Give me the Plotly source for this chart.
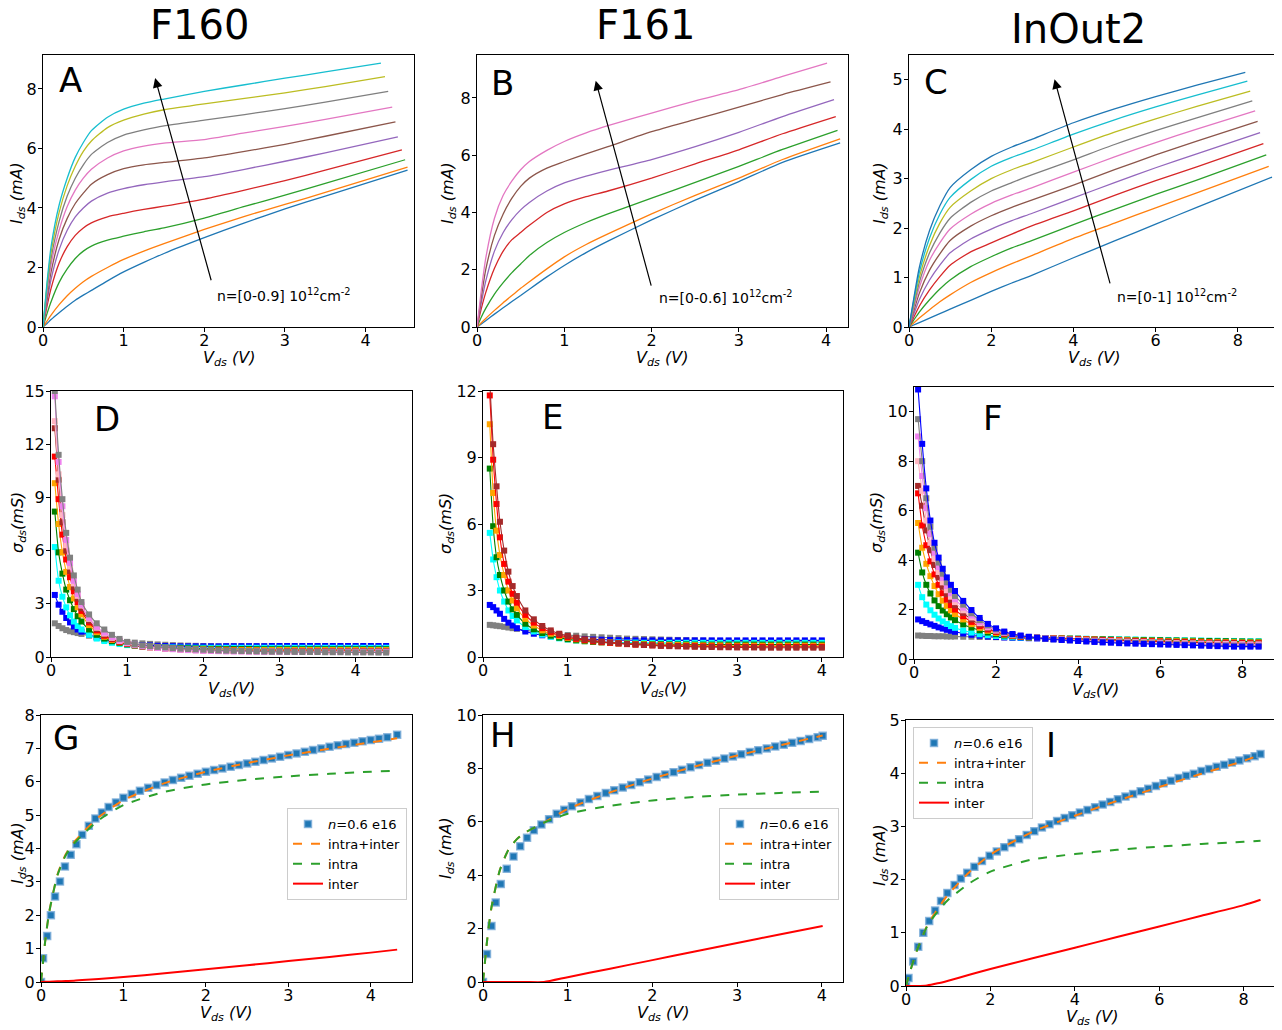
import plotly.graph_objects as go

FONT = "DejaVu Sans"
TAB10 = ["#1f77b4", "#ff7f0e", "#2ca02c", "#d62728", "#9467bd",
         "#8c564b", "#e377c2", "#7f7f7f", "#bcbd22", "#17becf"]
NAMED = {"gray": "#808080", "blue": "#0000FF", "cyan": "#00FFFF", "green": "#008000",
         "orange": "#FFA500", "red": "#FF0000", "brown": "#A52A2A", "pink": "#FFB6C1",
         "violet": "#EE82EE"}

# ---------------- Panel A (F160 I-V) ----------------
A_x = [0, 0.05, 0.1, 0.2, 0.3, 0.4, 0.5, 0.6, 0.8, 1.0, 1.25, 1.5, 2.0, 2.5, 3.0, 3.5]
A_xend = [4.52, 4.52, 4.49, 4.45, 4.40, 4.37, 4.33, 4.28, 4.24, 4.19]
A_I = [
    [0, 0.12, 0.25, 0.48, 0.7, 0.9, 1.07, 1.23, 1.55, 1.85, 2.17, 2.47, 3.0, 3.5, 3.97, 4.4, 5.27],
    [0, 0.2, 0.4, 0.75, 1.05, 1.3, 1.52, 1.7, 2.0, 2.27, 2.55, 2.8, 3.28, 3.72, 4.12, 4.52, 5.37],
    [0, 0.45, 0.85, 1.5, 1.95, 2.3, 2.55, 2.72, 2.92, 3.05, 3.2, 3.33, 3.66, 4.05, 4.43, 4.83, 5.62],
    [0, 0.7, 1.3, 2.15, 2.7, 3.08, 3.33, 3.5, 3.7, 3.82, 3.95, 4.06, 4.3, 4.6, 4.92, 5.27, 5.95],
    [0, 0.85, 1.6, 2.6, 3.25, 3.7, 4.0, 4.23, 4.5, 4.65, 4.78, 4.88, 5.05, 5.3, 5.57, 5.85, 6.39],
    [0, 1.0, 1.85, 2.95, 3.65, 4.15, 4.5, 4.8, 5.12, 5.32, 5.45, 5.53, 5.68, 5.9, 6.14, 6.41, 6.89],
    [0, 1.15, 2.1, 3.25, 4.05, 4.6, 5.0, 5.3, 5.68, 5.92, 6.08, 6.18, 6.3, 6.52, 6.74, 6.98, 7.39],
    [0, 1.3, 2.3, 3.55, 4.4, 5.0, 5.45, 5.8, 6.2, 6.45, 6.62, 6.76, 6.95, 7.14, 7.34, 7.56, 7.92],
    [0, 1.4, 2.5, 3.85, 4.75, 5.4, 5.9, 6.25, 6.7, 6.95, 7.15, 7.3, 7.5, 7.68, 7.87, 8.08, 8.41],
    [0, 1.5, 2.7, 4.1, 5.0, 5.7, 6.2, 6.6, 7.05, 7.32, 7.52, 7.66, 7.92, 8.14, 8.36, 8.57, 8.87],
]

# ---------------- Panel B (F161 I-V) ----------------
B_x = [0, 0.05, 0.1, 0.2, 0.3, 0.4, 0.5, 0.6, 0.8, 1.0, 1.25, 1.5, 2.0, 2.5, 3.0, 3.5]
B_xend = [4.16, 4.16, 4.13, 4.11, 4.09, 4.05, 4.01]
B_I = [
    [0, 0.11, 0.22, 0.45, 0.67, 0.89, 1.1, 1.32, 1.75, 2.15, 2.6, 3.0, 3.74, 4.43, 5.08, 5.75, 6.43],
    [0, 0.15, 0.3, 0.58, 0.85, 1.1, 1.35, 1.58, 2.03, 2.45, 2.88, 3.25, 3.95, 4.6, 5.2, 5.85, 6.57],
    [0, 0.35, 0.65, 1.15, 1.55, 1.9, 2.2, 2.5, 2.95, 3.3, 3.65, 3.95, 4.5, 5.05, 5.61, 6.2, 6.87],
    [0, 0.65, 1.2, 2.05, 2.65, 3.05, 3.3, 3.55, 4.0, 4.3, 4.55, 4.75, 5.2, 5.7, 6.19, 6.75, 7.35],
    [0, 0.85, 1.6, 2.65, 3.3, 3.75, 4.09, 4.35, 4.75, 5.03, 5.27, 5.47, 5.85, 6.3, 6.8, 7.35, 7.94],
    [0, 1.05, 2.0, 3.2, 3.95, 4.5, 4.91, 5.2, 5.55, 5.78, 6.05, 6.3, 6.82, 7.25, 7.68, 8.12, 8.56],
    [0, 1.3, 2.4, 3.8, 4.6, 5.1, 5.49, 5.78, 6.17, 6.48, 6.78, 7.03, 7.47, 7.9, 8.29, 8.75, 9.22],
]

# ---------------- Panel C (InOut2 I-V) ----------------
C_x = [0, 0.1, 0.25, 0.5, 0.75, 1.0, 1.5, 2.0, 2.5, 3.0, 4.0, 5.0, 6.0, 7.0]
C_xend = [8.83, 8.75, 8.69, 8.62, 8.54, 8.48, 8.42, 8.35, 8.30, 8.23, 8.18]
C_I = [
    [0, 0.035, 0.09, 0.18, 0.27, 0.36, 0.54, 0.72, 0.89, 1.05, 1.4, 1.74, 2.08, 2.42, 3.03],
    [0, 0.07, 0.18, 0.35, 0.51, 0.65, 0.9, 1.1, 1.28, 1.45, 1.79, 2.1, 2.41, 2.71, 3.25],
    [0, 0.12, 0.3, 0.55, 0.77, 0.95, 1.22, 1.42, 1.6, 1.75, 2.07, 2.38, 2.68, 2.97, 3.48],
    [0, 0.17, 0.42, 0.75, 1.02, 1.25, 1.52, 1.7, 1.88, 2.05, 2.35, 2.66, 2.96, 3.24, 3.71],
    [0, 0.22, 0.55, 0.95, 1.25, 1.5, 1.78, 1.98, 2.15, 2.3, 2.61, 2.92, 3.22, 3.5, 3.93],
    [0, 0.28, 0.68, 1.15, 1.48, 1.75, 2.04, 2.25, 2.42, 2.57, 2.87, 3.18, 3.48, 3.76, 4.16],
    [0, 0.33, 0.8, 1.35, 1.7, 1.98, 2.28, 2.5, 2.67, 2.82, 3.13, 3.44, 3.73, 4.0, 4.37],
    [0, 0.37, 0.9, 1.5, 1.9, 2.2, 2.52, 2.75, 2.92, 3.08, 3.38, 3.69, 3.97, 4.23, 4.57],
    [0, 0.42, 1.0, 1.65, 2.1, 2.42, 2.75, 3.0, 3.18, 3.33, 3.64, 3.94, 4.21, 4.46, 4.77],
    [0, 0.46, 1.1, 1.8, 2.28, 2.62, 2.98, 3.25, 3.43, 3.58, 3.9, 4.19, 4.45, 4.69, 4.97],
    [0, 0.5, 1.2, 1.95, 2.45, 2.82, 3.18, 3.45, 3.64, 3.8, 4.13, 4.41, 4.66, 4.89, 5.15],
]
C_colors = TAB10 + [TAB10[0]]

# ---------------- Panel D (F160 sigma) ----------------
D_x = [0.05, 0.1, 0.15, 0.2, 0.25, 0.3, 0.35, 0.4, 0.5, 0.6, 0.7, 0.8, 0.9, 1.0,
       1.1, 1.2, 1.3, 1.4, 1.5, 1.6, 1.7, 1.8, 1.9, 2.0, 2.1, 2.2, 2.3, 2.4, 2.5,
       2.6, 2.7, 2.8, 2.9, 3.0, 3.1, 3.2, 3.3, 3.4, 3.5, 3.6, 3.7, 3.8, 3.9, 4.0,
       4.1, 4.2, 4.3, 4.4]
D_names = ["gray", "blue", "cyan", "green", "orange", "red", "brown", "pink", "violet", "gray"]
D_S = [
    [1.9, 1.75, 1.62, 1.52, 1.45, 1.4, 1.35, 1.3, 1.2, 1.11, 1.03, 0.96, 0.9, 0.85,
     0.81, 0.77, 0.74, 0.71, 0.69, 0.67, 0.65, 0.64, 0.63, 0.62, 0.61, 0.6, 0.6, 0.6, 0.6,
     0.6, 0.6, 0.6, 0.6, 0.6, 0.6, 0.6, 0.6, 0.6, 0.6, 0.6, 0.6, 0.6, 0.6, 0.6,
     0.6, 0.6, 0.6, 0.6],
    [3.5, 2.95, 2.55, 2.2, 1.95, 1.72, 1.55, 1.43, 1.24, 1.1, 0.98, 0.88, 0.8, 0.74,
     0.7, 0.67, 0.65, 0.63, 0.62, 0.61, 0.6, 0.6, 0.6, 0.6, 0.6, 0.6, 0.61, 0.61, 0.61,
     0.61, 0.61, 0.61, 0.62, 0.62, 0.62, 0.62, 0.62, 0.62, 0.62, 0.62, 0.62, 0.62, 0.62, 0.62,
     0.62, 0.62, 0.62, 0.62],
    [6.2, 4.3, 3.4, 2.8, 2.35, 2.0, 1.75, 1.55, 1.25, 1.04, 0.9, 0.8, 0.73, 0.67,
     0.63, 0.6, 0.58, 0.56, 0.55, 0.54, 0.53, 0.53, 0.52, 0.52, 0.52, 0.52, 0.52, 0.52, 0.52,
     0.52, 0.52, 0.52, 0.52, 0.52, 0.52, 0.52, 0.52, 0.52, 0.52, 0.52, 0.52, 0.52, 0.52, 0.52,
     0.52, 0.52, 0.52, 0.52],
    [8.2, 5.9, 4.7, 3.8, 3.2, 2.7, 2.3, 2.0, 1.55, 1.25, 1.04, 0.89, 0.79, 0.71,
     0.65, 0.61, 0.58, 0.55, 0.53, 0.51, 0.5, 0.49, 0.48, 0.47, 0.46, 0.46, 0.45, 0.45, 0.45,
     0.45, 0.44, 0.44, 0.44, 0.44, 0.44, 0.44, 0.44, 0.44, 0.44, 0.44, 0.44, 0.44, 0.44, 0.44,
     0.44, 0.44, 0.44, 0.44],
    [9.8, 7.5, 5.9, 4.8, 3.95, 3.3, 2.8, 2.4, 1.8, 1.4, 1.14, 0.96, 0.83, 0.73,
     0.66, 0.61, 0.57, 0.53, 0.5, 0.48, 0.46, 0.45, 0.44, 0.43, 0.42, 0.41, 0.41, 0.4, 0.4,
     0.4, 0.39, 0.39, 0.39, 0.39, 0.39, 0.39, 0.39, 0.39, 0.39, 0.39, 0.39, 0.39, 0.39, 0.39,
     0.39, 0.39, 0.39, 0.39],
    [11.3, 8.9, 6.9, 5.5, 4.5, 3.7, 3.1, 2.6, 1.95, 1.5, 1.2, 1.0, 0.85, 0.74,
     0.66, 0.6, 0.55, 0.51, 0.48, 0.46, 0.44, 0.42, 0.4, 0.39, 0.38, 0.37, 0.36, 0.36, 0.35,
     0.35, 0.35, 0.34, 0.34, 0.34, 0.34, 0.34, 0.34, 0.34, 0.34, 0.34, 0.34, 0.34, 0.34, 0.34,
     0.34, 0.34, 0.34, 0.34],
    [12.9, 10.0, 7.6, 6.0, 4.85, 3.95, 3.3, 2.75, 2.05, 1.58, 1.27, 1.04, 0.88, 0.76,
     0.67, 0.6, 0.55, 0.51, 0.48, 0.45, 0.43, 0.41, 0.39, 0.37, 0.36, 0.35, 0.35, 0.34, 0.34,
     0.33, 0.33, 0.33, 0.32, 0.32, 0.32, 0.32, 0.32, 0.32, 0.32, 0.32, 0.32, 0.32, 0.32, 0.32,
     0.32, 0.32, 0.32, 0.32],
    [13.3, 10.3, 8.0, 6.3, 5.1, 4.15, 3.45, 2.9, 2.15, 1.65, 1.32, 1.08, 0.9, 0.78,
     0.69, 0.62, 0.56, 0.52, 0.48, 0.45, 0.42, 0.4, 0.38, 0.36, 0.35, 0.34, 0.33, 0.33, 0.32,
     0.32, 0.31, 0.31, 0.31, 0.3, 0.3, 0.3, 0.3, 0.3, 0.3, 0.3, 0.3, 0.3, 0.3, 0.3,
     0.3, 0.3, 0.3, 0.3],
    [14.7, 11.0, 8.5, 6.6, 5.3, 4.3, 3.55, 2.95, 2.2, 1.7, 1.38, 1.12, 0.93, 0.8,
     0.7, 0.62, 0.56, 0.51, 0.47, 0.44, 0.41, 0.39, 0.37, 0.35, 0.34, 0.33, 0.32, 0.31, 0.31,
     0.3, 0.3, 0.29, 0.29, 0.29, 0.28, 0.28, 0.28, 0.28, 0.28, 0.28, 0.28, 0.28, 0.28, 0.28,
     0.28, 0.28, 0.28, 0.28],
    [15.0, 11.4, 8.9, 7.0, 5.6, 4.6, 3.8, 3.1, 2.4, 1.9, 1.55, 1.25, 1.02, 0.85,
     0.72, 0.66, 0.61, 0.57, 0.54, 0.5, 0.47, 0.45, 0.43, 0.41, 0.39, 0.37, 0.36, 0.35, 0.34,
     0.33, 0.32, 0.31, 0.3, 0.3, 0.29, 0.29, 0.28, 0.28, 0.28, 0.27, 0.27, 0.27, 0.26, 0.26,
     0.26, 0.26, 0.25, 0.25],
]

# ---------------- Panel E (F161 sigma) ----------------
E_x = [0.08, 0.12, 0.16, 0.2, 0.25, 0.3, 0.35, 0.4, 0.5, 0.6, 0.7, 0.8, 0.9, 1.0,
       1.1, 1.2, 1.3, 1.4, 1.5, 1.6, 1.7, 1.8, 1.9, 2.0, 2.1, 2.2, 2.3, 2.4, 2.5,
       2.6, 2.7, 2.8, 2.9, 3.0, 3.1, 3.2, 3.3, 3.4, 3.5, 3.6, 3.7, 3.8, 3.9, 4.0]
E_names = ["gray", "blue", "cyan", "green", "orange", "red", "brown"]
E_S = [
    [1.45, 1.43, 1.41, 1.39, 1.36, 1.33, 1.3, 1.27, 1.21, 1.15, 1.1, 1.06, 1.02, 0.99,
     0.96, 0.93, 0.91, 0.89, 0.87, 0.85, 0.83, 0.82, 0.81, 0.8, 0.79, 0.78, 0.77, 0.76, 0.75,
     0.74, 0.73, 0.72, 0.71, 0.7, 0.69, 0.69, 0.69, 0.69, 0.69, 0.69, 0.69, 0.69, 0.69, 0.69],
    [2.35, 2.25, 2.1, 1.95, 1.72, 1.55, 1.42, 1.3, 1.15, 1.05, 0.98, 0.93, 0.89, 0.86,
     0.83, 0.81, 0.79, 0.78, 0.77, 0.76, 0.76, 0.75, 0.75, 0.75, 0.75, 0.75, 0.75, 0.75, 0.75,
     0.75, 0.75, 0.75, 0.75, 0.75, 0.75, 0.75, 0.75, 0.75, 0.75, 0.75, 0.75, 0.75, 0.75, 0.75],
    [5.6, 4.4, 3.6, 3.0, 2.5, 2.1, 1.85, 1.65, 1.35, 1.15, 1.01, 0.91, 0.84, 0.79,
     0.75, 0.72, 0.7, 0.68, 0.67, 0.66, 0.65, 0.65, 0.64, 0.64, 0.64, 0.64, 0.64, 0.64, 0.64,
     0.64, 0.64, 0.64, 0.64, 0.64, 0.64, 0.64, 0.64, 0.64, 0.64, 0.64, 0.64, 0.64, 0.64, 0.64],
    [8.5, 5.9, 4.5, 3.7, 3.0, 2.5, 2.15, 1.9, 1.5, 1.25, 1.08, 0.96, 0.87, 0.8,
     0.75, 0.71, 0.68, 0.66, 0.64, 0.62, 0.61, 0.6, 0.59, 0.58, 0.58, 0.57, 0.57, 0.57, 0.56,
     0.56, 0.56, 0.56, 0.56, 0.56, 0.56, 0.56, 0.56, 0.56, 0.56, 0.56, 0.56, 0.56, 0.56, 0.56],
    [10.5, 7.4, 5.7, 4.6, 3.7, 3.0, 2.55, 2.2, 1.72, 1.42, 1.2, 1.05, 0.94, 0.86,
     0.8, 0.75, 0.71, 0.67, 0.64, 0.62, 0.6, 0.58, 0.57, 0.56, 0.55, 0.54, 0.54, 0.53, 0.53,
     0.52, 0.52, 0.52, 0.51, 0.51, 0.51, 0.51, 0.51, 0.51, 0.51, 0.51, 0.51, 0.51, 0.51, 0.51],
    [11.8, 8.9, 6.9, 5.4, 4.2, 3.4, 2.85, 2.45, 1.9, 1.55, 1.3, 1.12, 0.99, 0.89,
     0.82, 0.76, 0.71, 0.67, 0.64, 0.61, 0.58, 0.56, 0.54, 0.53, 0.52, 0.51, 0.5, 0.49, 0.49,
     0.48, 0.48, 0.47, 0.47, 0.47, 0.46, 0.46, 0.46, 0.46, 0.46, 0.46, 0.46, 0.46, 0.46, 0.46],
    [12.4, 9.6, 7.7, 6.1, 4.8, 3.85, 3.2, 2.75, 2.1, 1.7, 1.4, 1.2, 1.05, 0.95,
     0.87, 0.8, 0.75, 0.7, 0.66, 0.62, 0.59, 0.56, 0.54, 0.52, 0.5, 0.49, 0.48, 0.47, 0.46,
     0.45, 0.45, 0.44, 0.44, 0.43, 0.43, 0.43, 0.42, 0.42, 0.42, 0.42, 0.42, 0.42, 0.42, 0.42],
]

# ---------------- Panel F (InOut2 sigma) ----------------
F_x = [0.1, 0.2, 0.3, 0.4, 0.5, 0.6, 0.7, 0.8, 0.9, 1.0,
       1.2, 1.4, 1.6, 1.8, 2.0, 2.2, 2.4, 2.6, 2.8, 3.0, 3.2, 3.4, 3.6, 3.8, 4.0,
       4.2, 4.4, 4.6, 4.8, 5.0, 5.2, 5.4, 5.6, 5.8, 6.0, 6.2, 6.4, 6.6, 6.8, 7.0,
       7.2, 7.4, 7.6, 7.8, 8.0, 8.2, 8.4]
F_names = ["gray", "blue", "cyan", "green", "orange", "red", "brown", "pink", "violet", "gray", "blue"]
F_S = [
    [0.95, 0.94, 0.93, 0.93, 0.92, 0.92, 0.92, 0.91, 0.91, 0.91,
     0.9, 0.9, 0.89, 0.89, 0.88, 0.88, 0.87, 0.87, 0.86, 0.86, 0.85, 0.84, 0.84, 0.83, 0.82,
     0.81, 0.8, 0.79, 0.78, 0.77, 0.76, 0.75, 0.74, 0.73, 0.72, 0.71, 0.7, 0.69, 0.68, 0.67,
     0.66, 0.65, 0.64, 0.63, 0.62, 0.61, 0.6],
    [1.6, 1.53, 1.46, 1.4, 1.34, 1.28, 1.23, 1.18, 1.14, 1.1,
     1.03, 0.98, 0.94, 0.91, 0.89, 0.87, 0.86, 0.85, 0.84, 0.83, 0.82, 0.81, 0.8, 0.79, 0.78,
     0.77, 0.76, 0.75, 0.74, 0.73, 0.72, 0.71, 0.7, 0.69, 0.68, 0.67, 0.66, 0.65, 0.64, 0.63,
     0.62, 0.61, 0.6, 0.6, 0.59, 0.59, 0.58],
    [3.0, 2.5, 2.2, 1.97, 1.79, 1.64, 1.52, 1.42, 1.33, 1.26,
     1.15, 1.07, 1.0, 0.96, 0.93, 0.9, 0.88, 0.87, 0.86, 0.85, 0.84, 0.84, 0.83, 0.83, 0.82,
     0.82, 0.81, 0.81, 0.8, 0.8, 0.79, 0.79, 0.78, 0.78, 0.77, 0.77, 0.76, 0.76, 0.75, 0.75,
     0.74, 0.74, 0.73, 0.73, 0.72, 0.72, 0.72],
    [4.3, 3.5, 3.0, 2.65, 2.37, 2.14, 1.96, 1.81, 1.68, 1.57,
     1.4, 1.27, 1.16, 1.07, 1.0, 0.95, 0.92, 0.89, 0.87, 0.86, 0.85, 0.84, 0.83, 0.82, 0.82,
     0.81, 0.8, 0.8, 0.79, 0.78, 0.78, 0.77, 0.77, 0.76, 0.76, 0.75, 0.75, 0.74, 0.74, 0.73,
     0.73, 0.72, 0.72, 0.71, 0.71, 0.7, 0.7],
    [5.5, 4.5, 3.85, 3.35, 2.95, 2.62, 2.36, 2.15, 1.97, 1.82,
     1.6, 1.41, 1.26, 1.14, 1.05, 0.99, 0.94, 0.9, 0.88, 0.86, 0.85, 0.84, 0.83, 0.82, 0.81,
     0.8, 0.79, 0.78, 0.77, 0.77, 0.76, 0.75, 0.74, 0.74, 0.73, 0.72, 0.72, 0.71, 0.71, 0.7,
     0.69, 0.69, 0.68, 0.68, 0.67, 0.67, 0.67],
    [6.7, 5.4, 4.6, 3.95, 3.42, 3.0, 2.66, 2.4, 2.18, 2.0,
     1.73, 1.5, 1.33, 1.19, 1.09, 1.01, 0.95, 0.91, 0.88, 0.86, 0.85, 0.83, 0.82, 0.81, 0.8,
     0.79, 0.78, 0.77, 0.76, 0.75, 0.74, 0.73, 0.72, 0.72, 0.71, 0.7, 0.69, 0.69, 0.68, 0.67,
     0.67, 0.66, 0.66, 0.65, 0.65, 0.64, 0.64],
    [7.0, 6.2, 5.2, 4.4, 3.8, 3.3, 2.92, 2.62, 2.38, 2.17,
     1.86, 1.6, 1.4, 1.24, 1.12, 1.03, 0.97, 0.92, 0.89, 0.86, 0.84, 0.83, 0.81, 0.8, 0.78,
     0.77, 0.76, 0.75, 0.74, 0.73, 0.72, 0.71, 0.7, 0.69, 0.68, 0.68, 0.67, 0.66, 0.66, 0.65,
     0.64, 0.64, 0.63, 0.63, 0.62, 0.62, 0.62],
    [8.0, 6.8, 5.6, 4.7, 4.05, 3.52, 3.1, 2.78, 2.52, 2.3,
     1.97, 1.68, 1.45, 1.28, 1.15, 1.05, 0.98, 0.93, 0.89, 0.86, 0.84, 0.82, 0.8, 0.78, 0.77,
     0.75, 0.74, 0.73, 0.72, 0.71, 0.7, 0.69, 0.68, 0.67, 0.66, 0.65, 0.64, 0.64, 0.63, 0.62,
     0.62, 0.61, 0.61, 0.6, 0.6, 0.59, 0.59],
    [9.0, 7.4, 6.1, 5.05, 4.3, 3.72, 3.28, 2.95, 2.66, 2.42,
     2.08, 1.76, 1.5, 1.31, 1.17, 1.06, 0.98, 0.93, 0.89, 0.86, 0.83, 0.81, 0.79, 0.77, 0.75,
     0.74, 0.72, 0.71, 0.7, 0.69, 0.68, 0.67, 0.66, 0.65, 0.64, 0.63, 0.62, 0.61, 0.6, 0.6,
     0.59, 0.58, 0.58, 0.57, 0.57, 0.56, 0.56],
    [9.7, 8.0, 6.5, 5.35, 4.5, 3.9, 3.45, 3.1, 2.8, 2.55,
     2.2, 1.85, 1.57, 1.36, 1.2, 1.08, 0.99, 0.93, 0.89, 0.86, 0.83, 0.8, 0.78, 0.76, 0.74,
     0.72, 0.71, 0.69, 0.68, 0.67, 0.66, 0.65, 0.64, 0.63, 0.62, 0.61, 0.6, 0.59, 0.58, 0.57,
     0.56, 0.55, 0.55, 0.54, 0.54, 0.53, 0.53],
    [10.9, 8.7, 6.9, 5.6, 4.7, 4.1, 3.65, 3.3, 3.0, 2.75,
     2.35, 1.98, 1.66, 1.42, 1.24, 1.11, 1.01, 0.95, 0.9, 0.86, 0.82, 0.79, 0.77, 0.75, 0.73,
     0.71, 0.69, 0.67, 0.66, 0.64, 0.63, 0.62, 0.61, 0.6, 0.59, 0.58, 0.57, 0.56, 0.55, 0.54,
     0.53, 0.52, 0.51, 0.5, 0.5, 0.5, 0.5],
]

# ---------------- Panel G (F160 fit) ----------------
G_xd = [0, 0.025, 0.075, 0.12, 0.17, 0.23, 0.29, 0.36, 0.43, 0.5, 0.58, 0.66, 0.74, 0.82, 0.91,
        1.0, 1.1, 1.2, 1.3, 1.4, 1.5, 1.6, 1.7, 1.8, 1.9, 2.0, 2.1, 2.2, 2.3, 2.4, 2.5, 2.6,
        2.7, 2.8, 2.9, 3.0, 3.1, 3.2, 3.3, 3.4, 3.5, 3.6, 3.7, 3.8, 3.9, 4.0, 4.1, 4.2, 4.32]
G_data = [0, 0.71, 1.38, 2.0, 2.56, 3.01, 3.46, 3.81, 4.13, 4.41, 4.68, 4.9, 5.08, 5.24, 5.38,
          5.52, 5.63, 5.73, 5.82, 5.9, 5.98, 6.05, 6.12, 6.18, 6.24, 6.3, 6.35, 6.4, 6.45, 6.5,
          6.55, 6.6, 6.65, 6.7, 6.75, 6.8, 6.85, 6.9, 6.95, 7.0, 7.05, 7.09, 7.13, 7.17, 7.21,
          7.25, 7.29, 7.33, 7.41]
G_xf = [0, 0.05, 0.1, 0.2, 0.3, 0.4, 0.5, 0.7, 1.0, 1.5, 2.0, 2.5, 3.0, 3.5, 4.0, 4.32]
G_sum = [0, 1.2, 2.1, 3.22, 3.83, 4.19, 4.46, 4.94, 5.45, 5.96, 6.3, 6.56, 6.79, 6.99, 7.18, 7.3]
G_intra = [0, 1.2, 2.1, 3.2, 3.8, 4.15, 4.4, 4.85, 5.3, 5.7, 5.92, 6.06, 6.16, 6.24, 6.3, 6.33]
G_inter = [0, 0.005, 0.01, 0.02, 0.03, 0.04, 0.06, 0.09, 0.15, 0.26, 0.38, 0.5, 0.63, 0.75, 0.88, 0.97]

# ---------------- Panel H (F161 fit) ----------------
H_xd = [0, 0.047, 0.1, 0.15, 0.21, 0.28, 0.36, 0.44, 0.52, 0.6, 0.69, 0.78, 0.87, 0.96, 1.05,
        1.15, 1.25, 1.35, 1.45, 1.55, 1.65, 1.75, 1.85, 1.95, 2.05, 2.15, 2.25, 2.35, 2.45,
        2.55, 2.65, 2.75, 2.85, 2.95, 3.05, 3.15, 3.25, 3.35, 3.45, 3.55, 3.65, 3.75, 3.85,
        3.95, 4.01]
H_data = [0, 1.05, 2.1, 2.98, 3.67, 4.24, 4.7, 5.08, 5.4, 5.68, 5.9, 6.1, 6.3, 6.45, 6.58,
          6.72, 6.85, 6.97, 7.08, 7.18, 7.28, 7.38, 7.48, 7.58, 7.68, 7.77, 7.86, 7.95, 8.04,
          8.13, 8.21, 8.29, 8.37, 8.45, 8.53, 8.61, 8.68, 8.75, 8.82, 8.89, 8.96, 9.03, 9.1,
          9.17, 9.22]
H_xf = [0, 0.05, 0.1, 0.2, 0.3, 0.4, 0.5, 0.72, 1.0, 1.5, 2.0, 2.5, 3.0, 3.5, 4.01]
H_sum = [0, 1.6, 2.8, 4.2, 4.95, 5.35, 5.6, 5.97, 6.48, 7.1, 7.62, 8.07, 8.48, 8.86, 9.23]
H_intra = [0, 1.6, 2.8, 4.2, 4.95, 5.35, 5.6, 5.97, 6.3, 6.6, 6.8, 6.93, 7.02, 7.08, 7.13]
H_inter = [0, 0, 0, 0, 0, 0, 0, 0, 0.18, 0.5, 0.82, 1.14, 1.46, 1.78, 2.1]

# ---------------- Panel I (InOut2 fit) ----------------
I_xd = [0, 0.06, 0.17, 0.29, 0.41, 0.55, 0.69, 0.83, 0.98, 1.15, 1.3, 1.45, 1.62, 1.8, 1.98,
        2.15, 2.33, 2.5, 2.68, 2.86, 3.04, 3.22, 3.4, 3.58, 3.76, 3.94, 4.12, 4.3, 4.48, 4.66,
        4.84, 5.02, 5.2, 5.38, 5.56, 5.74, 5.92, 6.1, 6.28, 6.46, 6.64, 6.82, 7.0, 7.18, 7.36,
        7.54, 7.72, 7.9, 8.08, 8.26, 8.4]
I_data = [0, 0.15, 0.46, 0.74, 1.0, 1.22, 1.42, 1.6, 1.75, 1.9, 2.02, 2.13, 2.24, 2.35, 2.45,
          2.53, 2.61, 2.69, 2.76, 2.84, 2.91, 2.98, 3.04, 3.1, 3.16, 3.21, 3.26, 3.31, 3.36,
          3.41, 3.46, 3.51, 3.56, 3.61, 3.66, 3.71, 3.76, 3.81, 3.86, 3.91, 3.95, 3.99, 4.04,
          4.08, 4.12, 4.16, 4.2, 4.24, 4.28, 4.32, 4.36]
I_xf = [0, 0.1, 0.25, 0.5, 0.75, 1.0, 1.5, 2.0, 3.0, 4.0, 5.0, 6.0, 7.0, 8.0, 8.4]
I_sum = [0, 0.28, 0.65, 1.13, 1.45, 1.72, 2.14, 2.47, 2.9, 3.2, 3.48, 3.74, 3.99, 4.23, 4.35]
I_intra = [0, 0.28, 0.65, 1.12, 1.4, 1.62, 1.93, 2.15, 2.38, 2.48, 2.56, 2.62, 2.67, 2.71, 2.73]
I_inter = [0, 0, 0, 0.01, 0.05, 0.1, 0.21, 0.32, 0.52, 0.72, 0.92, 1.12, 1.32, 1.52, 1.62]

TITLES = ["F160", "F161", "InOut2"]
LETTERS = ["A", "B", "C", "D", "E", "F", "G", "H", "I"]
XLAB_IV = "<i>V<sub>ds</sub> (V)</i>"
XLAB_S = "<i>V<sub>ds</sub>(V)</i>"
YLAB_IV = "<i>I<sub>ds</sub> (mA)</i>"
YLAB_S = "<i>σ<sub>ds</sub>(mS)</i>"

# ---------------- layout geometry (screen pixels) ----------------
# The page body has an 8px default margin, so the figure is offset by OFF.
OFF = 8
W, H = 1282 - OFF, 1030 - OFF


def px_x(p):
    return (p - OFF) / W


def px_y(p):
    return 1 - (p - OFF) / H


BOX = {  # x0, x1, y0(top), y1(bottom)
    1: (43, 414, 55, 327), 2: (477, 848, 55, 327), 3: (909, 1279, 55, 327),
    4: (51, 412, 391, 657), 5: (483, 843, 391, 657), 6: (914, 1275, 387, 659),
    7: (41, 412, 715, 982), 8: (483, 843, 715, 982), 9: (906, 1277, 720, 986),
}
XR = {1: 4.6, 2: 4.25, 3: 9.0, 4: 4.74, 5: 4.25, 6: 8.8, 7: 4.5, 8: 4.25, 9: 8.79}
YR = {1: 9.14, 2: 9.5, 3: 5.5, 4: 15, 5: 12, 6: 11, 7: 8, 8: 10, 9: 5}
XD = {1: 1, 2: 1, 3: 2, 4: 1, 5: 1, 6: 2, 7: 1, 8: 1, 9: 2}
YD = {1: 2, 2: 2, 3: 1, 4: 3, 5: 3, 6: 2, 7: 1, 8: 2, 9: 1}
LETTER_POS = {1: (70, 80), 2: (502, 83), 3: (936, 82), 4: (107, 419), 5: (552, 417),
              6: (993, 418), 7: (66, 738), 8: (503, 735), 9: (1051, 745)}
XLAB_POS = {1: (229, 358), 2: (662, 358), 3: (1094, 358), 4: (231, 689), 5: (663, 689),
            6: (1095, 690), 7: (226, 1013), 8: (663, 1013), 9: (1092, 1017)}
YLAB_POS = {1: (18, 193), 2: (449, 193), 3: (881, 193), 4: (18, 523), 5: (446, 523),
            6: (877, 523), 7: (18, 853), 8: (446, 848), 9: (880, 855)}

fig = go.Figure()


def ax(k):
    return ("x" if k == 1 else f"x{k}"), ("y" if k == 1 else f"y{k}")


def line_trace(k, x, y, color, width=1.3, dash=None, mode="lines", name=None,
               legend=None, showlegend=False, marker=None, smoothing=0.6):
    xa, ya = ax(k)
    kw = dict(x=x, y=y, mode=mode, xaxis=xa, yaxis=ya, showlegend=showlegend,
              line=dict(color=color, width=width, dash=dash, shape="spline", smoothing=smoothing),
              hoverinfo="skip")
    if name:
        kw["name"] = name
    if legend:
        kw["legend"] = legend
    if marker:
        kw["marker"] = marker
    fig.add_trace(go.Scatter(**kw))


# Row 1 I-V families
for i, ys in enumerate(A_I):
    line_trace(1, A_x + [A_xend[i]], ys, TAB10[i])
for i, ys in enumerate(B_I):
    line_trace(2, B_x + [B_xend[i]], ys, TAB10[i])
for i, ys in enumerate(C_I):
    line_trace(3, C_x + [C_xend[i]], ys, C_colors[i])

# Row 2 conductance families
for k, xs, names, S in [(4, D_x, D_names, D_S), (5, E_x, E_names, E_S), (6, F_x, F_names, F_S)]:
    for nm, ys in zip(names, S):
        c = NAMED[nm]
        line_trace(k, xs, ys, c, width=1.1, mode="lines+markers",
                   marker=dict(symbol="square", size=6, color=c, line=dict(width=0)))

# Row 3 fits
LEG = {7: "legend", 8: "legend2", 9: "legend3"}
for k, xd, yd, xf, ysum, yintra, yinter in [
        (7, G_xd, G_data, G_xf, G_sum, G_intra, G_inter),
        (8, H_xd, H_data, H_xf, H_sum, H_intra, H_inter),
        (9, I_xd, I_data, I_xf, I_sum, I_intra, I_inter)]:
    xa, ya = ax(k)
    fig.add_trace(go.Scatter(x=xd, y=yd, mode="markers", xaxis=xa, yaxis=ya,
                             name="<i>n</i>=0.6 e16", legend=LEG[k], showlegend=True,
                             marker=dict(symbol="square", size=7, color="#1f77b4",
                                         line=dict(width=1.5, color="rgba(120,170,215,0.8)")),
                             hoverinfo="skip"))
    line_trace(k, xf, ysum, "#ff7f0e", width=2, dash="dash", name="intra+inter",
               legend=LEG[k], showlegend=True)
    line_trace(k, xf, yintra, "#2ca02c", width=2, dash="dash", name="intra",
               legend=LEG[k], showlegend=True)
    line_trace(k, xf, yinter, "#FF0000", width=2, name="inter",
               legend=LEG[k], showlegend=True)

# ---------------- axes ----------------
layout = dict(width=W, height=H, margin=dict(l=0, r=0, t=0, b=0, autoexpand=False),
              paper_bgcolor="white", plot_bgcolor="white",
              font=dict(family=FONT, size=16, color="black"))
for k in range(1, 10):
    x0, x1, y0, y1 = BOX[k]
    xs = "xaxis" if k == 1 else f"xaxis{k}"
    ys = "yaxis" if k == 1 else f"yaxis{k}"
    xa, ya = ax(k)
    common = dict(showline=True, mirror=True, linecolor="black", linewidth=1,
                  ticks="outside", ticklen=4, tickcolor="black", tickwidth=1,
                  showgrid=False, zeroline=False, automargin=False,
                  tickfont=dict(size=16, family=FONT))
    layout[xs] = dict(domain=[px_x(x0), min(1.0, px_x(x1))], range=[0, XR[k]], anchor=ya,
                      dtick=XD[k], tick0=0, ticklabelstandoff=-5, **common)
    layout[ys] = dict(domain=[px_y(y1), px_y(y0)], range=[0, YR[k]], anchor=xa,
                      dtick=YD[k], tick0=0, ticklabelstandoff=-2, **common)

leg_common = dict(bgcolor="white", bordercolor="#cccccc", borderwidth=1,
                  font=dict(size=13, family=FONT), xanchor="left", yanchor="top",
                  tracegroupgap=0, itemwidth=30)
layout["legend"] = dict(x=px_x(287), y=px_y(808), **leg_common)
layout["legend2"] = dict(x=px_x(719), y=px_y(808), **leg_common)
layout["legend3"] = dict(x=px_x(913), y=px_y(727), **leg_common)

ann = []
for t, xp, yp in zip(TITLES, [200, 645, 1078], [25, 25, 29]):
    ann.append(dict(text=t, x=px_x(xp), y=px_y(yp), xref="paper", yref="paper",
                    showarrow=False, font=dict(size=40, family=FONT),
                    xanchor="center", yanchor="middle"))
for k in range(1, 10):
    lx, ly = LETTER_POS[k]
    ann.append(dict(text=LETTERS[k - 1], x=px_x(lx), y=px_y(ly), xref="paper", yref="paper",
                    showarrow=False, font=dict(size=34, family=FONT),
                    xanchor="center", yanchor="middle"))
    row = (k - 1) // 3
    tx, ty = XLAB_POS[k]
    ann.append(dict(text=XLAB_S if row == 1 else XLAB_IV, x=px_x(tx), y=px_y(ty),
                    xref="paper", yref="paper", showarrow=False,
                    font=dict(size=16, family=FONT), xanchor="center", yanchor="middle"))
    tx, ty = YLAB_POS[k]
    ann.append(dict(text=YLAB_S if row == 1 else YLAB_IV, x=px_x(tx), y=px_y(ty),
                    xref="paper", yref="paper", showarrow=False, textangle=-90,
                    font=dict(size=16, family=FONT), xanchor="center", yanchor="middle"))

ARROWS = [  # panel, head(x,y), tail(x,y), label pos, label
    (1, (1.39, 8.37), (2.09, 1.52), (2.13, 1.07), "n=[0-0.9] 10<sup>12</sup>cm<sup>-2</sup>"),
    (2, (1.36, 8.6), (2.0, 1.39), (2.06, 1.05), "n=[0-0.6] 10<sup>12</sup>cm<sup>-2</sup>"),
    (3, (3.54, 5.01), (4.9, 0.85), (5.02, 0.63), "n=[0-1] 10<sup>12</sup>cm<sup>-2</sup>"),
]
for k, (hx, hy), (tx, ty), (lx, ly), lab in ARROWS:
    xa, ya = ax(k)
    ann.append(dict(x=hx, y=hy, ax=tx, ay=ty, xref=xa, yref=ya, axref=xa, ayref=ya,
                    text="", showarrow=True, arrowhead=2, arrowsize=1.6, arrowwidth=1.2,
                    arrowcolor="black"))
    ann.append(dict(x=lx, y=ly, xref=xa, yref=ya, text=lab, showarrow=False,
                    xanchor="left", yanchor="middle", font=dict(size=14, family=FONT)))
layout["annotations"] = ann

fig.update_layout(**layout)
fig.write_html("out.html")
